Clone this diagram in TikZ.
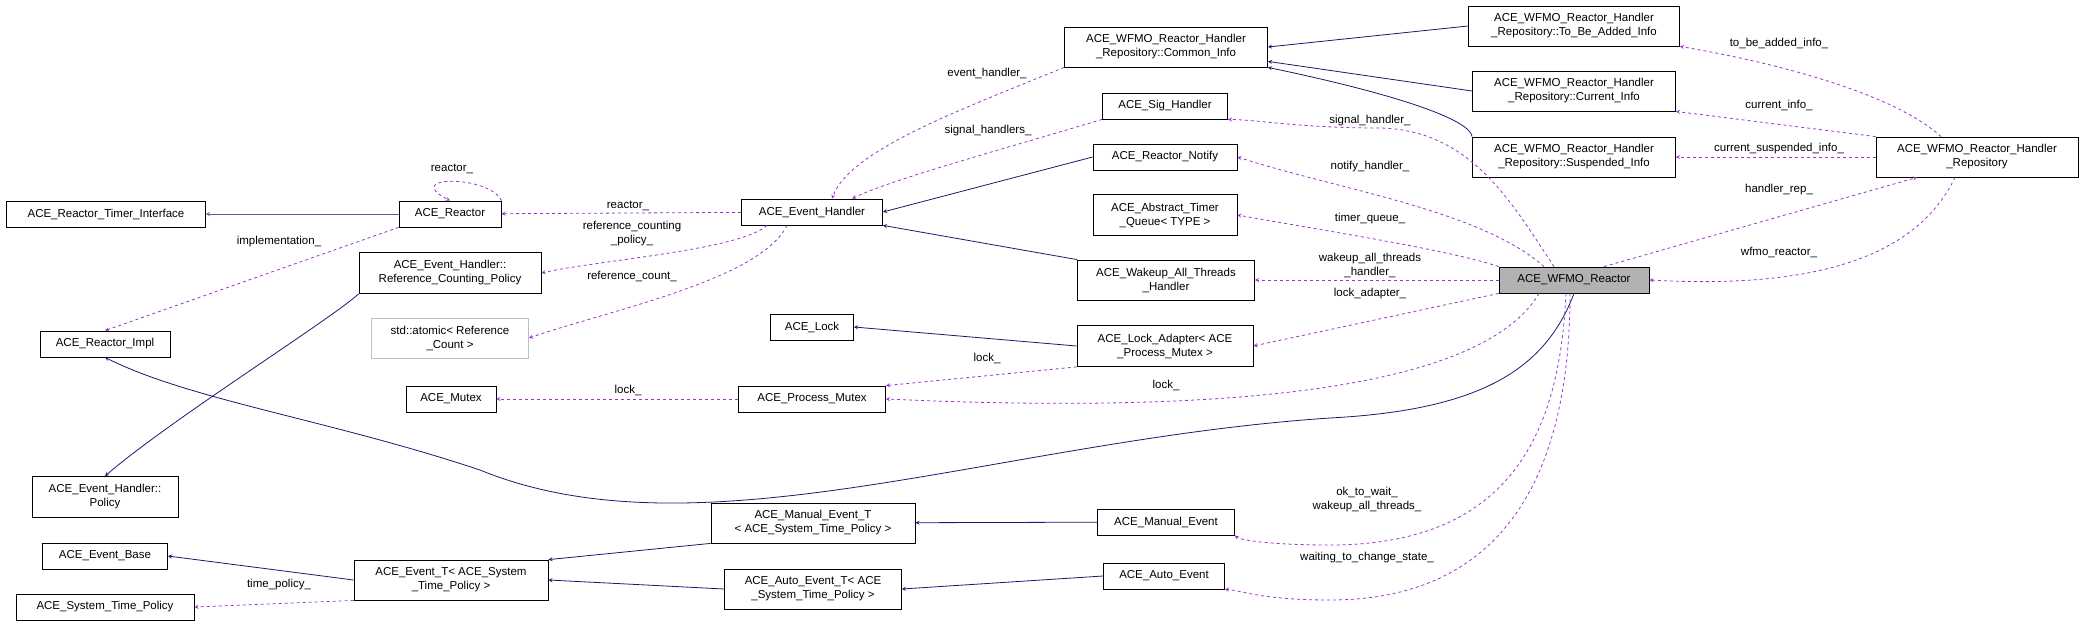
\documentclass[tikz,border=0pt]{standalone}
\usepackage{fontspec}
\setmainfont{Liberation Sans}
\usetikzlibrary{positioning}
\definecolor{navy}{HTML}{191970}
\definecolor{lnavy}{HTML}{5C5CA8}
\definecolor{orchid}{HTML}{9A32CD}
\begin{document}
\begin{tikzpicture}[x=1pt,y=-1pt,
  cls/.style = {draw, rectangle, thick, fill=white, inner sep=2pt, align=center, minimum height=26pt, font=\fontsize{11.5}{14}\selectfont},
  inh/.style = {-stealth, thick, draw=navy},
  use/.style = {-stealth, thick, dashed, draw=orchid},
  lab/.style = {font=\fontsize{11.5}{14}\selectfont, align=center, inner sep=1pt}]
      \useasboundingbox (0,0) rectangle (2084,626);

      \node[cls,minimum width=199pt] (tmi) at (106,214) {ACE\_Reactor\_Timer\_Interface};
      \node[cls,minimum width=102pt] (rct) at (450,214) {ACE\_Reactor};
      \node[cls,minimum width=130pt] (imp) at (105,344) {ACE\_Reactor\_Impl};
      \node[cls,minimum width=182pt,minimum height=41pt] (rcp) at (450,273) {ACE\_Event\_Handler::\\Reference\_Counting\_Policy};
      \node[cls,minimum width=157pt,minimum height=40pt,draw=gray!50] (atm) at (450,338) {std::atomic< Reference\\\_Count >};
      \node[cls,minimum width=90pt] (mtx) at (451,399) {ACE\_Mutex};
      \node[cls,minimum width=146pt,minimum height=41pt] (pol) at (105,497) {ACE\_Event\_Handler::\\Policy};
      \node[cls,minimum width=125pt] (ebs) at (105,556) {ACE\_Event\_Base};
      \node[cls,minimum width=178pt] (stp) at (105,607) {ACE\_System\_Time\_Policy};
      \node[cls,minimum width=194pt,minimum height=40pt] (evt) at (451,580) {ACE\_Event\_T< ACE\_System\\\_Time\_Policy >};

      \node[cls,minimum width=141pt] (evh) at (812,212) {ACE\_Event\_Handler};
      \node[cls,minimum width=83pt] (lck) at (812,327) {ACE\_Lock};
      \node[cls,minimum width=147pt] (pmx) at (812,399) {ACE\_Process\_Mutex};
      \node[cls,minimum width=204pt,minimum height=40pt] (met) at (813,523) {ACE\_Manual\_Event\_T\\< ACE\_System\_Time\_Policy >};
      \node[cls,minimum width=177pt,minimum height=40pt] (aet) at (813,589) {ACE\_Auto\_Event\_T< ACE\\\_System\_Time\_Policy >};

      \node[cls,minimum width=203pt,minimum height=40pt] (cmi) at (1166,47) {ACE\_WFMO\_Reactor\_Handler\\\_Repository::Common\_Info};
      \node[cls,minimum width=125pt] (sig) at (1165,106) {ACE\_Sig\_Handler};
      \node[cls,minimum width=144pt] (ntf) at (1165,157) {ACE\_Reactor\_Notify};
      \node[cls,minimum width=144pt,minimum height=41pt] (tmq) at (1165,215) {ACE\_Abstract\_Timer\\\_Queue< TYPE >};
      \node[cls,minimum width=177pt,minimum height=40pt] (wak) at (1166,280) {ACE\_Wakeup\_All\_Threads\\\_Handler};
      \node[cls,minimum width=176pt,minimum height=41pt] (lad) at (1165,346) {ACE\_Lock\_Adapter< ACE\\\_Process\_Mutex >};
      \node[cls,minimum width=137pt] (mev) at (1166,522) {ACE\_Manual\_Event};
      \node[cls,minimum width=121pt] (aev) at (1164,576) {ACE\_Auto\_Event};

      \node[cls,minimum width=211pt,minimum height=40pt] (tba) at (1574,26) {ACE\_WFMO\_Reactor\_Handler\\\_Repository::To\_Be\_Added\_Info};
      \node[cls,minimum width=203pt,minimum height=40pt] (cui) at (1574,91) {ACE\_WFMO\_Reactor\_Handler\\\_Repository::Current\_Info};
      \node[cls,minimum width=203pt,minimum height=40pt] (sui) at (1574,157) {ACE\_WFMO\_Reactor\_Handler\\\_Repository::Suspended\_Info};
      \node[cls,minimum width=150pt,fill=gray!60] (wfm) at (1574,280) {ACE\_WFMO\_Reactor};
      \node[cls,minimum width=202pt,minimum height=40pt] (rep) at (1977,157) {ACE\_WFMO\_Reactor\_Handler\\\_Repository};

      % inheritance
      \draw[inh,draw=lnavy] (rct) to (tmi);
      \draw[inh] (ntf.west) to (evh.east);
      \draw[inh] (wak.north west) to (evh.south east);
      \draw[inh] (tba.west) to (cmi.east);
      \draw[inh] (cui.west) to ([yshift=6pt]cmi.south east);
      \draw[inh] (sui.north west) .. controls (1470,120) and (1400,95) .. (cmi.south east);
      \draw[inh] (lad.west) to (lck.east);
      \draw[inh] (mev) to (met);
      \draw[inh] (aev.west) to (aet.east);
      \draw[inh] (met.south west) to (evt.north east);
      \draw[inh] (aet.west) to (evt.east);
      \draw[inh] (evt.west) to (ebs.east);
      \draw[inh] (rcp.south west) .. controls (330,320) and (170,420) .. (pol.north);
      \draw[inh] (wfm.south) .. controls (1545,370) and (1480,410) .. (1330,418)
                 .. controls (1000,440) and (700,560) .. (480,470) .. controls (330,420) and (190,400) .. (imp.south);

      % usage
      \draw[use] (rct.north east) .. controls (490,175) and (400,175) .. (rct.north);
      \draw[use] (evh) to (rct);
      \draw[use] (rct.south west) to (imp.north);
      \draw[use] ([xshift=-45pt]evh.south) .. controls (740,250) and (600,260) .. (rcp.east);
      \draw[use] ([xshift=-25pt]evh.south) .. controls (760,280) and (610,310) .. (atm.east);
      \draw[use] (cmi.south west) .. controls (960,110) and (850,150) .. ([xshift=20pt]evh.north);
      \draw[use] (sig.south west) .. controls (1000,150) and (890,180) .. ([xshift=40pt]evh.north);
      \draw[use] (pmx) to (mtx);
      \draw[use] (lad.south west) to (pmx.north east);
      \draw[use] ([xshift=-35pt]wfm.south) .. controls (1500,360) and (1350,420) .. (pmx.east);
      \draw[use] (evt.south west) to (stp.east);
      \draw[use] ([xshift=-20pt]wfm.north) .. controls (1510,200) and (1470,130) .. (1380,128) .. controls (1300,128) and (1260,120) .. (sig.south east);
      \draw[use] ([xshift=-30pt]wfm.north) .. controls (1480,210) and (1340,190) .. (ntf.east);
      \draw[use] (wfm.north west) .. controls (1450,250) and (1320,230) .. (tmq.east);
      \draw[use] (wfm) to (wak);
      \draw[use] (wfm.south west) to (lad.east);
      \draw[use] ([xshift=-8pt]wfm.south) .. controls (1560,420) and (1520,545) .. (1330,545) .. controls (1270,545) and (1240,540) .. (mev.south east);
      \draw[use] ([xshift=-4pt]wfm.south) .. controls (1570,480) and (1500,600) .. (1330,600) .. controls (1260,600) and (1240,590) .. (aev.south east);
      \draw[use] ([xshift=30pt]wfm.north) to ([xshift=-60pt]rep.south);
      \draw[use] ([xshift=-22pt]rep.south) .. controls (1920,250) and (1830,290) .. (wfm.east);
      \draw[use] ([xshift=-36pt]rep.north) .. controls (1890,90) and (1760,60) .. (tba.south east);
      \draw[use] (rep.north west) to (cui.south east);
      \draw[use] (rep.west) to (sui.east);

      % labels
      \node[lab] (l1) at (628,206) {reactor\_};
      \node[lab] (l2) at (452,169) {reactor\_};
      \node[lab] (l3) at (279,242) {implementation\_};
      \node[lab] (l4) at (632,234) {reference\_counting\\\_policy\_};
      \node[lab] (l5) at (632,276) {reference\_count\_};
      \node[lab] (l6) at (987,73) {event\_handler\_};
      \node[lab] (l7) at (988,131) {signal\_handlers\_};
      \node[lab] (l8) at (628,390) {lock\_};
      \node[lab] (l9) at (987,358) {lock\_};
      \node[lab] (l10) at (1166,385) {lock\_};
      \node[lab] (l11) at (279,585) {time\_policy\_};
      \node[lab] (l12) at (1370,121) {signal\_handler\_};
      \node[lab] (l13) at (1370,167) {notify\_handler\_};
      \node[lab] (l14) at (1370,219) {timer\_queue\_};
      \node[lab] (l15) at (1370,265) {wakeup\_all\_threads\\\_handler\_};
      \node[lab] (l16) at (1370,294) {lock\_adapter\_};
      \node[lab] (l17) at (1367,500) {ok\_to\_wait\_\\wakeup\_all\_threads\_};
      \node[lab] (l18) at (1367,558) {waiting\_to\_change\_state\_};
      \node[lab] (l19) at (1779,43) {to\_be\_added\_info\_};
      \node[lab] (l20) at (1779,105) {current\_info\_};
      \node[lab] (l21) at (1779,149) {current\_suspended\_info\_};
      \node[lab] (l22) at (1779,190) {handler\_rep\_};
      \node[lab] (l23) at (1779,252) {wfmo\_reactor\_};
\end{tikzpicture}
\end{document}
